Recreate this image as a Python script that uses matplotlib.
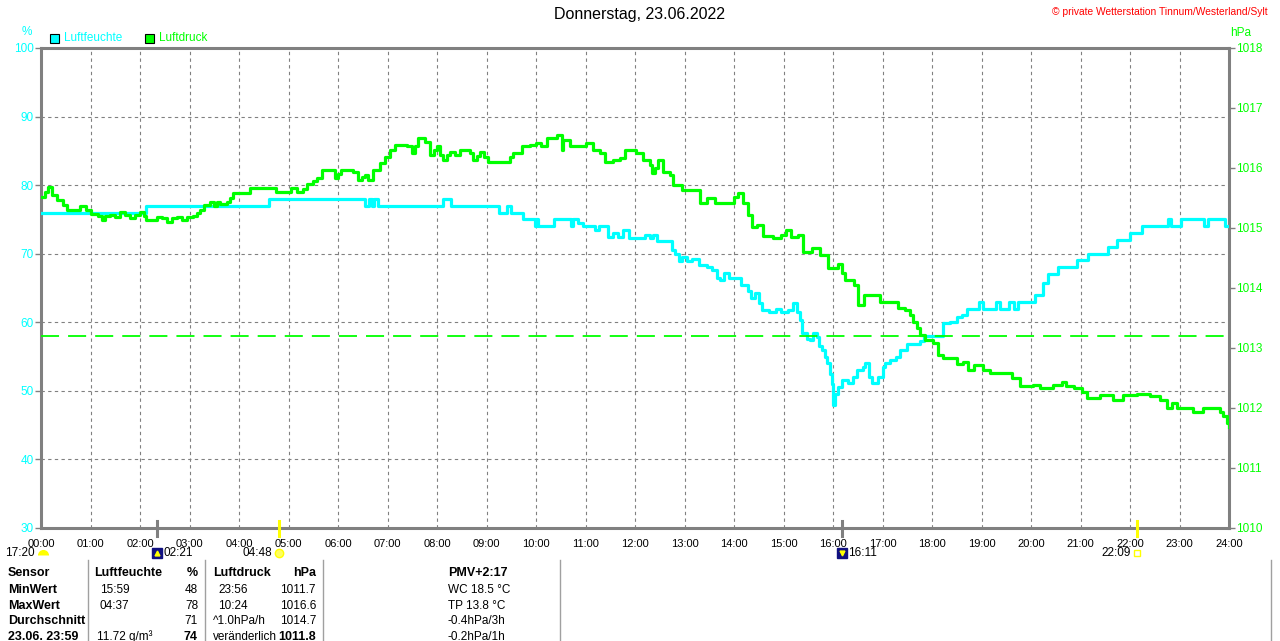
import matplotlib
matplotlib.use("Agg")
import matplotlib.pyplot as plt
from matplotlib.lines import Line2D
from matplotlib.patches import Rectangle
from matplotlib.transforms import blended_transform_factory

plt.rcParams['font.family'] = ['Liberation Sans', 'DejaVu Sans']

# --------- data -------- #
hum_t = [0.0, 2.13, 4.61, 6.55, 6.62, 6.68, 6.73, 6.8, 8.13, 8.28, 9.26, 9.42, 9.5,
         9.73, 9.97, 10.0, 10.05, 10.37, 10.7, 10.75, 10.85, 10.95, 11.2, 11.28, 11.45,
         11.55, 11.65, 11.75, 11.88, 12.2, 12.3, 12.37, 12.45, 12.75, 12.8, 12.88, 12.95,
         13.05, 13.15, 13.3, 13.45, 13.55, 13.65, 13.72, 13.8, 13.9, 14.05, 14.15, 14.28,
         14.35, 14.42, 14.5, 14.56, 14.7, 14.85, 14.95, 15.1, 15.2, 15.28, 15.33, 15.38,
         15.47, 15.53, 15.6, 15.67, 15.72, 15.77, 15.83, 15.87, 15.93, 15.97, 15.99, 16.04,
         16.1, 16.18, 16.3, 16.4, 16.48, 16.6, 16.65, 16.72, 16.78, 16.9, 17.0, 17.05,
         17.15, 17.28, 17.35, 17.49, 17.76, 17.83, 18.22, 18.36, 18.5, 18.6, 18.7, 18.84,
         18.94, 19.04, 19.3, 19.38, 19.55, 19.65, 19.74, 20.08, 20.25, 20.35, 20.55, 20.92,
         21.16, 21.56, 21.73, 22.0, 22.24, 22.76, 22.82, 23.04, 23.5, 23.57, 23.92, 24.0]
hum_v = [76, 77, 78, 77, 78, 77, 78, 77, 78, 77, 76, 77, 76,
         75, 74, 75, 74, 75, 74, 75, 74.5, 74, 73.5, 74, 72.5,
         73, 72.5, 73.5, 72.3, 72.8, 72.3, 72.8, 71.8, 70.5, 70, 69, 69.5,
         69, 69.3, 68.4, 68, 67.6, 66.5, 66.2, 67.2, 66.5, 66.4, 65.4, 64.5,
         63.5, 64.3, 62.8, 61.8, 61.5, 62, 61.5, 61.8, 62.8, 61.5, 60.3, 58.5,
         57.5, 57.4, 58.4, 57.9, 56.5, 56, 55, 54, 52.5, 51, 48, 49.6,
         50.5, 51.6, 51.1, 52, 53, 53.5, 54, 52, 51.1, 52, 53.5, 54,
         54.5, 55, 56, 56.9, 57.2, 58, 59.9, 60.1, 60.8, 61.1, 61.9, 62,
         63, 62, 63, 62, 63, 62, 63, 64, 65.7, 67.1, 68.1, 69.1,
         70, 71, 72, 73, 74, 75, 74, 75, 74, 75, 74, 74]

pres_t = [0.0, 0.08, 0.15, 0.22, 0.32, 0.45, 0.52, 0.7, 0.79, 0.9, 1.0, 1.15, 1.23, 1.3,
          1.39, 1.5, 1.6, 1.7, 1.8, 1.9, 2.0, 2.08, 2.13, 2.3, 2.34, 2.45, 2.54, 2.65,
          2.74, 2.85, 2.94, 3.08, 3.15, 3.21, 3.3, 3.41, 3.5, 3.55, 3.62, 3.75, 3.82, 3.88,
          4.16, 4.22, 4.63, 4.75, 4.96, 5.05, 5.17, 5.3, 5.37, 5.5, 5.57, 5.67, 5.87, 5.94,
          6.0, 6.07, 6.31, 6.41, 6.48, 6.55, 6.61, 6.71, 6.85, 6.95, 7.05, 7.15, 7.39, 7.49,
          7.55, 7.62, 7.76, 7.86, 7.93, 7.99, 8.07, 8.13, 8.2, 8.26, 8.36, 8.46, 8.67, 8.73,
          8.8, 8.87, 8.95, 9.04, 9.41, 9.48, 9.54, 9.71, 9.88, 10.01, 10.1, 10.22, 10.42,
          10.52, 10.55, 10.69, 10.9, 11.02, 11.16, 11.29, 11.39, 11.55, 11.7, 11.8, 12.03,
          12.17, 12.3, 12.34, 12.4, 12.47, 12.57, 12.71, 12.77, 12.94, 13.14, 13.31, 13.45,
          13.62, 13.89, 13.99, 14.09, 14.19, 14.29, 14.36, 14.46, 14.59, 14.79, 14.95, 15.06,
          15.15, 15.3, 15.4, 15.57, 15.74, 15.9, 16.04, 16.1, 16.18, 16.25, 16.42, 16.51,
          16.62, 16.85, 16.95, 17.19, 17.32, 17.45, 17.55, 17.62, 17.7, 17.76, 17.86, 18.03,
          18.13, 18.23, 18.5, 18.63, 18.73, 18.84, 19.04, 19.17, 19.54, 19.61, 19.78, 20.04,
          20.18, 20.45, 20.62, 20.7, 20.86, 21.03, 21.13, 21.39, 21.66, 21.86, 22.14, 22.4,
          22.6, 22.74, 22.84, 22.94, 23.28, 23.48, 23.82, 23.88, 23.95, 24.0]
pres_v = [1015.51, 1015.6, 1015.69, 1015.55, 1015.47, 1015.38, 1015.3, 1015.3, 1015.36,
          1015.3, 1015.24, 1015.2, 1015.13, 1015.2, 1015.22, 1015.18, 1015.26, 1015.22,
          1015.16, 1015.22, 1015.26, 1015.2, 1015.13, 1015.13, 1015.18, 1015.16, 1015.1,
          1015.16, 1015.18, 1015.14, 1015.19, 1015.2, 1015.25, 1015.3, 1015.38, 1015.44,
          1015.36, 1015.44, 1015.4, 1015.44, 1015.5, 1015.58, 1015.58, 1015.66, 1015.66,
          1015.6, 1015.6, 1015.66, 1015.6, 1015.65, 1015.74, 1015.78, 1015.83, 1015.97,
          1015.97, 1015.83, 1015.9, 1015.97, 1015.94, 1015.8, 1015.85, 1015.88, 1015.8,
          1015.97, 1016.08, 1016.19, 1016.3, 1016.38, 1016.36, 1016.25, 1016.36, 1016.5,
          1016.44, 1016.22, 1016.3, 1016.36, 1016.22, 1016.13, 1016.22, 1016.27, 1016.22,
          1016.3, 1016.25, 1016.13, 1016.2, 1016.27, 1016.18, 1016.1, 1016.1, 1016.18,
          1016.25, 1016.36, 1016.38, 1016.41, 1016.36, 1016.5, 1016.55, 1016.3, 1016.47,
          1016.36, 1016.36, 1016.41, 1016.3, 1016.25, 1016.1, 1016.13, 1016.16, 1016.3,
          1016.25, 1016.13, 1016.05, 1015.91, 1016.0, 1016.13, 1015.94, 1015.88, 1015.72,
          1015.63, 1015.63, 1015.41, 1015.5, 1015.41, 1015.41, 1015.52, 1015.58, 1015.41,
          1015.22, 1015.02, 1015.05, 1014.86, 1014.83, 1014.88, 1014.97, 1014.85, 1014.88,
          1014.6, 1014.66, 1014.55, 1014.33, 1014.33, 1014.4, 1014.25, 1014.13, 1014.05,
          1013.72, 1013.88, 1013.88, 1013.77, 1013.77, 1013.66, 1013.63, 1013.55, 1013.44,
          1013.33, 1013.22, 1013.13, 1013.08, 1012.88, 1012.83, 1012.74, 1012.77, 1012.63,
          1012.72, 1012.63, 1012.58, 1012.58, 1012.5, 1012.36, 1012.38, 1012.33, 1012.38,
          1012.44, 1012.36, 1012.33, 1012.27, 1012.16, 1012.22, 1012.13, 1012.22, 1012.24,
          1012.2, 1012.13, 1012.0, 1012.08, 1012.0, 1011.94, 1012.0, 1011.94, 1011.86,
          1011.75, 1011.69]

ref_pressure = 1013.2
hour_labels = ["%02d:00" % h for h in range(25)]
hum_ticks = [30, 40, 50, 60, 70, 80, 90, 100]
pres_ticks = [1010, 1011, 1012, 1013, 1014, 1015, 1016, 1017, 1018]

# sun / moon events below the time axis
event_times = [0.0, 2 + 21/60, 4 + 48/60, 16 + 11/60, 22 + 9/60]
event_labels = ["17:20", "02:21", "04:48", "16:11", "22:09"]
event_kinds = ["moon", "moonrise", "sunrise", "moonset", "sunset"]

title = "Donnerstag, 23.06.2022"
credit = "\u00a9 private Wetterstation Tinnum/Westerland/Sylt"

table_rows = ["Sensor", "MinWert", "MaxWert", "Durchschnitt", "23.06. 23:59"]
hum_time = ["", "15:59", "04:37", "", "11.72 g/m\u00b3"]
hum_vals = ["%", "48", "78", "71", "74"]
pres_time = ["Luftdruck", "23:56", "10:24", "^1.0hPa/h", "ver\u00e4nderlich"]
pres_vals = ["hPa", "1011.7", "1016.6", "1014.7", "1011.8"]
extra = ["PMV+2:17", "WC 18.5 \u00b0C", "TP 13.8 \u00b0C", "-0.4hPa/3h", "-0.2hPa/1h"]

CYAN = "#00ffff"
GREEN = "#00ff00"
GRAY = "#808080"
W, H = 1280, 641


def px(x, y):
    return x / W, 1 - y / H


fig = plt.figure(figsize=(W / 100, H / 100), dpi=100)
ax = fig.add_axes([41 / W, 1 - 528 / H, (1229 - 41) / W, 480 / H])
ax2 = ax.twinx()

ax.set_xlim(0, 24)
ax.set_ylim(30, 100)
ax2.set_ylim(1010, 1018)

ax.grid(True, color=GRAY, linestyle=(0, (3, 3)), linewidth=0.8)
ax.set_axisbelow(True)

ax.plot(hum_t, hum_v, color=CYAN, lw=2.3, drawstyle="steps-post", zorder=3)
ax2.axhline(ref_pressure, color=GREEN, lw=1.3, dashes=(10, 5), zorder=2)
ax2.plot(pres_t, pres_v, color=GREEN, lw=2.3, drawstyle="steps-post", zorder=3)

ax.set_xticks(range(25))
ax.set_xticklabels(hour_labels, fontsize=8)
ax.tick_params(axis="x", length=0, pad=8)
ax.set_yticks(hum_ticks)
ax.tick_params(axis="y", colors=GRAY, labelcolor=CYAN, labelsize=8.5, length=4, width=1, pad=1)
ax2.set_yticks(pres_ticks)
ax2.tick_params(axis="y", colors=GRAY, labelcolor=GREEN, labelsize=8.5, length=4, width=1, pad=1)

for s in ax.spines.values():
    s.set_color(GRAY)
    s.set_linewidth(2.2)
for s in ax2.spines.values():
    s.set_visible(False)

# event markers on the time axis
trans = blended_transform_factory(ax.transData, ax.transAxes)
for t, lab, kind in zip(event_times, event_labels, event_kinds):
    if kind != "moon":
        col = GRAY if kind in ("moonrise", "moonset") else "#ffff00"
        ax.plot([t, t], [0.014, -0.016], color=col, lw=2.2, transform=trans,
                clip_on=False, zorder=5)
    yv = -0.052
    if kind in ("moonrise", "moonset"):
        ax.plot([t], [yv], marker="s", ms=7, color="#101080", mec="#101080",
                transform=trans, clip_on=False)
        ax.plot([t], [yv], marker="^" if kind == "moonrise" else "v", ms=3.5,
                color="#ffff00", mec="#ffff00", transform=trans, clip_on=False)
        ax.annotate(lab, (t, yv), xycoords=trans, xytext=(4.5, 0),
                    textcoords="offset points", ha="left", va="center", fontsize=8.5,
                    annotation_clip=False)
    else:
        if kind == "sunrise":
            ax.plot([t], [yv], marker="o", ms=6, color="#ffff60", mec="#ffff00",
                    transform=trans, clip_on=False)
        elif kind == "sunset":
            ax.plot([t], [yv], marker="s", ms=4, mfc="none", mec="#ffff00", mew=1,
                    transform=trans, clip_on=False)
        else:
            ax.plot([t + 0.04], [yv - 0.004], marker="o", ms=8, fillstyle="top",
                    color="#ffff00", markerfacecoloralt="none", mew=0, transform=trans,
                    clip_on=False)
        ax.annotate(lab, (t, yv), xycoords=trans, xytext=(-4.5, 0),
                    textcoords="offset points", ha="right", va="center", fontsize=8.5,
                    annotation_clip=False)

# header texts
fig.text(*px(639, 15), title, ha="center", va="center", fontsize=11.5)
fig.text(*px(1268, 12), credit, ha="right", va="center", fontsize=7.4, color="red")
fig.text(*px(27, 32), "%", ha="center", va="center", fontsize=8.5, color=CYAN)
fig.text(*px(1230, 33), "hPa", ha="left", va="center", fontsize=8.5, color=GREEN)

# legend boxes
for x0, col, name in [(50, CYAN, "Luftfeuchte"), (145, GREEN, "Luftdruck")]:
    fig.patches.append(Rectangle(px(x0, 43), 9 / W, 9 / H, transform=fig.transFigure,
                                 facecolor=col, edgecolor="black", lw=0.8))
    fig.text(*px(x0 + 14, 38), name, ha="left", va="center", fontsize=8.5, color=col)

# table below the chart
for xs in [88, 205, 323, 560, 1271]:
    fig.lines.append(Line2D([xs / W, xs / W], [1 - 560 / H, 0], transform=fig.transFigure,
                            color="#a0a0a0", lw=1))

row_y = [573, 590, 606, 621, 637]
for i, y in enumerate(row_y):
    head = i == 0
    fig.text(*px(8, y), table_rows[i], ha="left", va="center", fontsize=9,
             fontweight="bold")
    if head:
        fig.text(*px(94, y), "Luftfeuchte", ha="left", va="center", fontsize=9,
                 fontweight="bold")
    else:
        fig.text(*px(100 if i < 4 else 97, y), hum_time[i], ha="left", va="center",
                 fontsize=8.5)
    fig.text(*px(198, y), hum_vals[i], ha="right", va="center",
             fontsize=9 if i in (0, 4) else 8.5,
             fontweight="bold" if i in (0, 4) else "normal")
    x4 = 213 if i in (0, 3, 4) else 218
    fig.text(*px(x4, y), pres_time[i], ha="left", va="center",
             fontsize=9 if head else 8.5, fontweight="bold" if head else "normal")
    fig.text(*px(316, y), pres_vals[i], ha="right", va="center",
             fontsize=9 if i in (0, 4) else 8.5,
             fontweight="bold" if i in (0, 4) else "normal")
    fig.text(*px(448, y), extra[i], ha="left", va="center",
             fontsize=9 if head else 8.5, fontweight="bold" if head else "normal")

fig.savefig("out.png", dpi=100)
